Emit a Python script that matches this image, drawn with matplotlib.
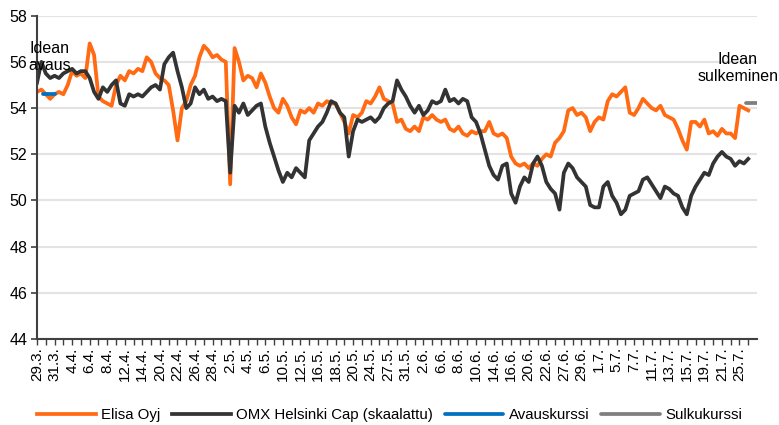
import matplotlib
matplotlib.use('Agg')
import matplotlib.pyplot as plt
import numpy as np
import pandas as pd

plt.rcParams['font.family'] = ['Liberation Sans', 'DejaVu Sans']

# trading days (Helsinki), 29.3. - 26.7.
holidays = ['2022-04-15', '2022-04-18', '2022-05-26', '2022-06-24']
days = pd.bdate_range('2022-03-29', '2022-07-26')
days = days[~days.isin(pd.to_datetime(holidays))]
day_labels = [f'{d.day}.{d.month}.' for d in days]

# two readings per trading day
elisa = [
    54.7, 54.8, 54.6, 54.4, 54.6, 54.7, 54.6, 55.0, 55.6, 55.4,
    55.5, 55.3, 56.8, 56.3, 54.5, 54.3, 54.2, 54.1, 55.0, 55.4,
    55.2, 55.6, 55.5, 55.7, 55.6, 56.2, 56.0, 55.5, 55.3, 55.2,
    55.0, 53.9, 52.6, 54.0, 54.3, 55.0, 55.4, 56.2, 56.7, 56.5,
    56.2, 56.3, 56.1, 56.0, 50.7, 56.6, 56.0, 55.2, 55.4, 55.3,
    54.9, 55.5, 55.1, 54.5, 54.0, 53.8, 54.4, 54.1, 53.6, 53.3,
    53.9, 53.8, 54.0, 53.8, 54.2, 54.1, 54.3, 54.2, 54.2, 53.8,
    53.4, 52.9, 53.7, 53.6, 53.8, 54.3, 54.2, 54.5, 54.9, 54.4,
    54.3, 54.2, 53.4, 53.5, 53.1, 53.0, 53.2, 53.0, 53.6, 53.5,
    53.7, 53.5, 53.4, 53.5, 53.1, 53.0, 53.2, 52.9, 52.8, 53.0,
    52.9, 53.0, 53.0, 53.4, 52.9, 52.8, 52.9, 52.7, 51.9, 51.6,
    51.5, 51.6, 51.4, 51.6, 51.5, 51.8, 52.0, 51.9, 52.5, 52.7,
    53.0, 53.9, 54.0, 53.7, 53.8, 53.6, 53.0, 53.4, 53.6, 53.5,
    54.3, 54.6, 54.5, 54.7, 54.9, 53.8, 53.7, 54.0, 54.4, 54.2,
    54.0, 53.9, 54.1, 53.7, 53.6, 53.5, 53.1, 52.6, 52.2, 53.4,
    53.4, 53.2, 53.5, 52.9, 53.0, 52.8, 53.1, 52.9, 52.9, 52.7,
    54.1, 54.0, 53.9,
]
omx = [
    55.1, 56.0, 55.5, 55.3, 55.4, 55.3, 55.5, 55.6, 55.7, 55.5,
    55.6, 55.6, 55.3, 54.7, 54.4, 54.9, 54.7, 55.0, 55.2, 54.2,
    54.1, 54.6, 54.5, 54.6, 54.5, 54.7, 54.9, 55.0, 54.8, 55.9,
    56.2, 56.4, 55.6, 54.9, 54.0, 54.2, 54.9, 54.6, 54.8, 54.4,
    54.5, 54.3, 54.4, 54.3, 51.2, 54.1, 53.8, 54.2, 53.7, 53.9,
    54.1, 54.2, 53.2, 52.5, 51.9, 51.3, 50.8, 51.2, 51.0, 51.4,
    51.2, 51.0, 52.6, 52.9, 53.2, 53.4, 53.8, 54.3, 54.2, 53.8,
    53.6, 51.9, 53.0, 53.5, 53.4, 53.5, 53.6, 53.4, 53.6, 54.0,
    54.2, 54.3, 55.2, 54.8, 54.5, 54.1, 53.8, 54.1, 53.7, 53.9,
    54.3, 54.2, 54.3, 54.8, 54.3, 54.4, 54.2, 54.4, 54.3, 53.6,
    53.4, 52.9, 52.2, 51.5, 51.1, 50.9, 51.5, 51.6, 50.3, 49.9,
    50.6, 51.0, 50.8, 51.6, 51.9, 51.5, 50.8, 50.5, 50.3, 49.6,
    51.2, 51.6, 51.4, 51.0, 50.8, 50.6, 49.8, 49.7, 49.7, 50.6,
    50.8, 50.2, 49.9, 49.4, 49.6, 50.2, 50.3, 50.4, 50.9, 51.0,
    50.7, 50.4, 50.1, 50.6, 50.5, 50.3, 50.2, 49.7, 49.4, 50.2,
    50.6, 50.9, 51.2, 51.1, 51.6, 51.9, 52.1, 51.9, 51.8, 51.5,
    51.7, 51.6, 51.8,
]
x = np.arange(len(elisa)) * 0.5

open_price = 54.6
open_span = [0.7, 2.0]
close_price = 54.2
close_span = [80.8, 82.0]

ORANGE = '#FF6A13'
DARK = '#333333'
BLUE = '#0070C0'
GREY = '#7F7F7F'

fig = plt.figure(figsize=(7.79, 4.25), dpi=100)
ax = fig.add_axes([0.0475, 0.2024, 0.9243, 0.7606])

ax.plot(x, elisa, color=ORANGE, lw=2.7, label='Elisa Oyj', solid_joinstyle='round')
ax.plot(x, omx, color=DARK, lw=2.7, label='OMX Helsinki Cap (skaalattu)', solid_joinstyle='round')
ax.plot(open_span, [open_price] * 2, color=BLUE, lw=2.7, label='Avauskurssi', solid_capstyle='round')
ax.plot(close_span, [close_price] * 2, color=GREY, lw=2.7, label='Sulkukurssi', solid_capstyle='round')

ax.set_xlim(0, 82)
ax.set_ylim(44, 58)
ax.set_yticks(np.arange(44, 59, 2))
ax.set_xticks(np.arange(len(days)))
ax.set_xticklabels([lab if i % 2 == 0 else '' for i, lab in enumerate(day_labels)],
                   rotation=90, fontsize=11)
ax.tick_params(axis='y', labelsize=11.5, length=4, width=1.2, color='#404040', pad=3)
ax.tick_params(axis='x', length=4, width=1, color='#404040', pad=2)

ax.grid(axis='y', color='#E3E3E3', lw=1.5)
ax.set_axisbelow(True)
for s in ['top', 'right']:
    ax.spines[s].set_visible(False)
for s in ['left', 'bottom']:
    ax.spines[s].set_color('#404040')
    ax.spines[s].set_linewidth(1.5)

fig.text(0.064, 0.866, 'Idean\navaus', ha='center', va='center', fontsize=11.5, linespacing=1.15)
fig.text(0.947, 0.84, 'Idean\nsulkeminen', ha='center', va='center', fontsize=11.5, linespacing=1.15)

fig.legend(loc='center', bbox_to_anchor=(0.5, 0.024), ncol=4, frameon=False, fontsize=10.8,
           handlelength=3.9, handletextpad=0.35, columnspacing=0.8)

fig.savefig('out.png', dpi=100)
